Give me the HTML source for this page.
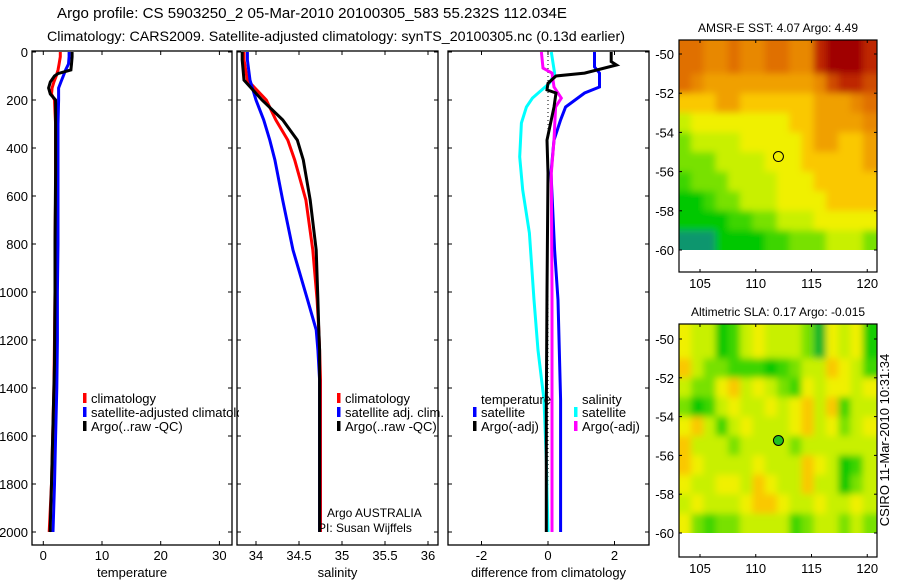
<!DOCTYPE html>
<html><head><meta charset="utf-8"><style>
html,body{margin:0;padding:0;background:#fff;}
svg{display:block;font-family:"Liberation Sans",Arial,sans-serif;}
</style></head><body>
<svg id="fig" width="900" height="580" viewBox="0 0 900 580" xmlns="http://www.w3.org/2000/svg">
<defs>
<filter id="blur" x="-5%" y="-5%" width="110%" height="110%"><feGaussianBlur stdDeviation="3.5"/></filter>
<clipPath id="leg1clip"><rect x="30" y="380" width="209" height="60"/></clipPath>
</defs>
<text x="57" y="18" font-size="14.5" textLength="510" lengthAdjust="spacingAndGlyphs">Argo profile: CS 5903250_2 05-Mar-2010 20100305_583 55.232S 112.034E</text>
<text x="47" y="41" font-size="14" textLength="578" lengthAdjust="spacingAndGlyphs">Climatology: CARS2009. Satellite-adjusted climatology: synTS_20100305.nc (0.13d earlier)</text>
<g id="layer"></g>
</svg>
<script>
// ---------- data ----------
const depthTicks=[0,200,400,600,800,1000,1200,1400,1600,1800,2000];
const tempTicks=[0,10,20,30];
const salTicks=[34,34.5,35,35.5,36];
const salTickLabels=["34","34.5","35","35.5","36"];
const diffTicks=[-2,0,2];
const tempClimDepth=[0,20,50,75,100,125,150,175,200,250,300,400,600,800,1000,1200,1400,1600,1800,2000];
const tempClimVal=[2.9,2.9,2.7,2.5,2.2,1.8,1.5,1.4,1.9,2.0,2.1,2.1,2.1,2.0,2.0,1.9,1.8,1.6,1.4,1.0];
const tempSatDepth=[0,20,50,75,100,125,150,200,300,400,600,800,1000,1200,1400,1600,1800,2000];
const tempSatVal=[4.4,4.4,4.3,3.8,3.4,3.0,2.6,2.6,2.5,2.5,2.5,2.5,2.4,2.4,2.3,2.1,1.9,1.65];
const tempArgoDepth=[0,20,50,75,90,100,125,150,175,200,250,350,500,800,1000,1300,1600,1800,2000];
const tempArgoVal=[4.9,4.9,4.8,4.7,2.5,1.9,1.2,0.9,1.2,2.1,2.1,2.1,2.1,2.0,2.0,1.9,1.6,1.4,1.15];
const salDepth=[0,33,117,200,283,367,450,617,825,1033,1158,1242,1367,1600,2000];
const salClimVal=[33.86,33.86,33.9,34.12,34.23,34.37,34.45,34.58,34.66,34.71,34.73,34.74,34.75,34.75,34.75];
const salSatVal=[33.9,33.9,33.93,34.0,34.09,34.16,34.22,34.31,34.43,34.6,34.7,34.72,34.74,34.74,34.74];
const salArgoVal=[33.84,33.84,33.86,34.07,34.31,34.48,34.55,34.63,34.7,34.72,34.73,34.74,34.74,34.74,34.74];
const dTempSatDepth=[0,62,88,146,171,229,283,367,504,825,1033,1450,2000];
const dTempSatVal=[1.4,1.4,1.55,1.55,1.1,0.53,0.38,0.18,0.09,0.2,0.3,0.38,0.38];
const dTempArgoDepth=[0,40,54,88,100,130,158,171,229,367,504,1000,1500,2000];
const dTempArgoVal=[1.9,1.9,2.06,1.1,0.24,0.0,-0.03,0.24,0.18,-0.03,0.0,-0.03,-0.05,-0.05];
const dSalSatDepth=[0,88,129,192,229,296,437,575,754,1033,1242,1450,1700,2000];
const dSalSatVal=[0.1,0.2,0.05,-0.47,-0.65,-0.8,-0.85,-0.76,-0.56,-0.42,-0.3,-0.12,-0.05,0.0];
const dSalArgoDepth=[0,67,88,146,192,229,367,504,1000,1500,2000];
const dSalArgoVal=[-0.2,-0.15,0.12,0.18,0.4,0.23,0.18,0.1,0.12,0.12,0.12];
const sstLatTicks=[-50,-52,-54,-56,-58,-60];
const lonTicks=[105,110,115,120];
const gridLon0=103.1, gridDLon=1.1, gridLat0=-50, gridDLat=-1;
const sstGrid=[
[6,6,5.5,5.5,6,5.5,5.5,6,6,5.5,5.5,7,7.5,7.5,7.5,7],
[6,5.5,5,5,5,5,5,5,5,5,5,5.5,6.5,7,7,6.5],
[4.5,4.5,4.5,5,5,4.5,4.5,4.5,4.5,4.5,4.5,5,5,5,5.5,6],
[3.5,4,4,4,4,4,4,4,4,4.5,4.5,5,5,5,5,5.5],
[3,3.5,3.5,3.5,3.5,4,4,4,4,4,4.5,5,5,4.5,4.5,5],
[3,3,3,3.5,3.5,3.5,3.5,4,4,4,4.5,4.5,4.5,4.5,4.5,5],
[2.5,3,3,3,3.5,3.5,3.5,3.5,4,4,4,4.5,4.5,4.5,4.5,4.5],
[2,2,2.5,3,3,3.5,3.5,3.5,4,4,4,4,4.5,4.5,4.5,4.5],
[2,2,2,2,2.5,2.5,3,3,3.5,3.5,3.5,4,4,4,4,4],
[1.5,1.5,1.5,2,2,2,2,2.5,2.5,3,3,3,3.5,3.5,3.5,3]];
const slaGrid=[
[4,3.5,3.5,2,2.5,3.5,4,3.5,3.5,3.5,3,1.8,4,3.5,4,2.2],
[4.5,3.5,3,3,2.5,2.5,2.5,2,2.5,3,3.5,3.5,4.5,4,3.5,2.5],
[3.5,3,3,4,4.5,3.5,4,3.5,3,2.5,4,3.5,4,4,3.5,4],
[3,2,2.5,3.5,4,3.5,3.5,4,3.5,4,4.5,3.5,4.5,2.5,3.5,3.5],
[4,4.5,3.5,2.5,3.5,4,3.5,3.5,3.5,4,4.5,3.5,4,3,3.5,4],
[4.5,3.5,3.5,3.5,3,3.5,3.5,3.5,3.5,3,3.5,3.5,3.5,3.5,3.5,3.5],
[4.5,4,3.5,3.5,3.5,3.5,4,3.5,3.5,3.5,4.5,4,3.5,2,2.5,3.5],
[4,3.5,3.5,4,4,3.5,4.5,4,3.5,3.5,4.5,3.5,3.5,2,3,3.5],
[3.5,4,3.5,3.5,3.5,4,4.5,4.5,4,3.5,3.5,4,3.5,3.5,4,3.5],
[4,3,2.5,3,3,3.5,3.5,3.5,3.5,2.5,3,3.5,3.5,3,3.5,3]];
const argoLon=112.034, argoLat=-55.232;

// ---------- helpers ----------
const NS="http://www.w3.org/2000/svg";
const layer=document.getElementById('layer');
function el(tag,attrs,parent){const e=document.createElementNS(NS,tag);for(const k in attrs)e.setAttribute(k,attrs[k]);(parent||layer).appendChild(e);return e;}
function txt(x,y,s,size,anchor,parent){const t=el('text',{x:x,y:y,'font-size':size,'text-anchor':anchor||'start'},parent);t.textContent=s;return t;}
const yDepth=d=>52+0.24*d;
const PT=51,PB=545;

function panel(name,x0,x1,xs,ticks,labels,title,showY){
  const g=el('g',{});
  
  
  const r=el('rect',{x:x0,y:PT,width:x1-x0,height:PB-PT,fill:'none',stroke:'#000','stroke-width':1.3},g);
  
  
  depthTicks.forEach(d=>{const y=yDepth(d);
    el('line',{x1:x0,x2:x0+4,y1:y,y2:y,stroke:'#000'},g);
    el('line',{x1:x1-4,x2:x1,y1:y,y2:y,stroke:'#000'},g);
    if(showY){const t=txt(x0-4,y+5,String(d),13,'end',g);
      
      }
  });
  ticks.forEach((v,i)=>{const x=xs(v);
    el('line',{x1:x,x2:x,y1:PB,y2:PB-4,stroke:'#000'},g);
    el('line',{x1:x,x2:x,y1:PT,y2:PT+4,stroke:'#000'},g);
    const t=txt(x,560,labels[i],13,'middle',g);
    
    
  });
  const tt=txt((x0+x1)/2,577,title,13,'middle',g);
  
  
  return g;
}
function line(g,depths,vals,xs,color,name,w){
  const pts=depths.map((d,i)=>xs(vals[i]).toFixed(1)+','+yDepth(d).toFixed(1)).join(' ');
  const p=el('polyline',{points:pts,fill:'none',stroke:color,'stroke-width':w||3},g);
  
  
}
function legend(g,x,y,color,label,name){
  el('rect',{x:x,y:y-10,width:3.5,height:10,fill:color},g);
  const t=txt(x+8,y,label,13,'start',g);
  
  
}

// temperature panel
const xT=v=>43.3+5.87*v;
const g1=panel('temperature-panel',32,232,xT,tempTicks,tempTicks.map(String),'temperature',true);
line(g1,tempClimDepth,tempClimVal,xT,'#ff0000','temp-climatology-line');
line(g1,tempSatDepth,tempSatVal,xT,'#0000ff','temp-satellite-line');
line(g1,tempArgoDepth,tempArgoVal,xT,'#000000','temp-argo-line');
const lg1=el('g',{'clip-path':'url(#leg1clip)'},g1);
legend(lg1,83,403,'#ff0000','climatology','legend-climatology');
legend(lg1,83,417,'#0000ff','satellite-adjusted climatology','legend-satellite-adjusted');
legend(lg1,83,431,'#000000','Argo(..raw -QC)','legend-argo');

// salinity panel
const xS=v=>256+86*(v-34);
const g2=panel('salinity-panel',237,438,xS,salTicks,salTickLabels,'salinity',false);
line(g2,salDepth,salClimVal,xS,'#ff0000','sal-climatology-line');
line(g2,salDepth,salSatVal,xS,'#0000ff','sal-satellite-line');
line(g2,salDepth,salArgoVal,xS,'#000000','sal-argo-line');
legend(g2,337,403,'#ff0000','climatology','legend-sal-climatology');
legend(g2,337,417,'#0000ff','satellite adj. clim.','legend-sal-satellite');
legend(g2,337,431,'#000000','Argo(..raw -QC)','legend-sal-argo');
const a1=txt(327,517,'Argo AUSTRALIA',12,'start',g2);

const a2=txt(318,532,'PI: Susan Wijffels',12,'start',g2);


// difference panel
const xD=v=>548+33.25*v;
const g3=panel('difference-panel',448,649,xD,diffTicks,diffTicks.map(String),'difference from climatology',false);
const zl=el('line',{x1:xD(0),x2:xD(0),y1:yDepth(0),y2:yDepth(2000),stroke:'#000','stroke-dasharray':'1,3'},g3);

line(g3,dSalSatDepth,dSalSatVal,xD,'#00ffff','diff-sal-satellite-line');
line(g3,dTempSatDepth,dTempSatVal,xD,'#0000ff','diff-temp-satellite-line');
line(g3,dSalArgoDepth,dSalArgoVal,xD,'#ff00ff','diff-sal-argo-line');
line(g3,dTempArgoDepth,dTempArgoVal,xD,'#000000','diff-temp-argo-line');
const h1=txt(481,404,'temperature',13,'start',g3);
const h2=txt(582,404,'salinity',13,'start',g3);
legend(g3,473,417,'#0000ff','satellite','legend-temp-satellite');
legend(g3,473,431,'#000000','Argo(-adj)','legend-temp-argo');
legend(g3,574,417,'#00ffff','satellite','legend-sal-satellite-diff');
legend(g3,574,431,'#ff00ff','Argo(-adj)','legend-sal-argo-diff');

// maps
function color(v){
  const stops=[[1.5,[16,150,110]],[2,[0,200,0]],[3,[120,225,0]],[3.5,[200,240,0]],[4,[240,240,0]],[4.5,[250,200,0]],[5,[240,160,0]],[6,[224,112,0]],[7,[190,40,0]],[7.5,[160,0,0]]];
  if(v<=stops[0][0])return 'rgb('+stops[0][1]+')';
  for(let i=1;i<stops.length;i++){if(v<=stops[i][0]){const a=stops[i-1],b=stops[i],t=(v-a[0])/(b[0]-a[0]);
    return 'rgb('+a[1].map((c,k)=>Math.round(c+(b[1][k]-c)*t)).join(',')+')';}}
  return 'rgb('+stops[stops.length-1][1]+')';
}
function map(name,top,bottom,lat50y,lat60y,grid,title,filled){
  const g=el('g',{});
  
  
  const x0=679,x1=877;
  const xL=lon=>700+11.15*(lon-105);
  const yL=lat=>lat50y+(lat60y-lat50y)*(lat+50)/(-10);
  const cid=name+'-clip';
  const dataBottom=yL(-60);
  const cp=el('clipPath',{id:cid},g);el('rect',{x:x0,y:top,width:x1-x0,height:dataBottom-top},cp);
  const cg=el('g',{'clip-path':'url(#'+cid+')'},g);
  const hg=el('g',{filter:'url(#blur)'},cg);
  grid.forEach((row,r)=>row.forEach((v,c)=>{
    const lonA=gridLon0+c*gridDLon, latA=gridLat0+r*gridDLat;
    const xa=c===0?x0-8:xL(lonA), xb=(c===row.length-1?x1+8:xL(lonA+gridDLon))+0.5;
    const ya=r===0?top-8:yL(latA), yb=(r===grid.length-1?dataBottom+8:yL(latA+gridDLat))+0.5;
    const cell=el('rect',{x:xa.toFixed(1),y:ya.toFixed(1),width:(xb-xa).toFixed(1),height:(yb-ya).toFixed(1),fill:color(v)},hg);
    
    
  }));
  el('rect',{x:x0,y:top,width:x1-x0,height:bottom-top,fill:'none',stroke:'#000','stroke-width':1.2},g);
  sstLatTicks.forEach(l=>{const y=yL(l);
    el('line',{x1:x0,x2:x0+3,y1:y,y2:y,stroke:'#000'},g);
    el('line',{x1:x1-3,x2:x1,y1:y,y2:y,stroke:'#000'},g);
    const t=txt(x0-5,y+5,String(l),13,'end',g);
    });
  lonTicks.forEach(l=>{const x=xL(l);
    el('line',{x1:x,x2:x,y1:bottom,y2:bottom-3,stroke:'#000'},g);
    el('line',{x1:x,x2:x,y1:top,y2:top+3,stroke:'#000'},g);
    const t=txt(x,bottom+16,String(l),13,'middle',g);
    });
  const tt=txt((x0+x1)/2,top-8,title,12,'middle',g);
  
  const m=el('circle',{cx:xL(argoLon),cy:yL(argoLat),r:5,fill:filled?'#20c020':'none',stroke:'#000','stroke-width':1},g);
  
}
map('sst-map',40,272,54,250,sstGrid,'AMSR-E SST: 4.07 Argo: 4.49',false);
map('sla-map',324,557,339,533,slaGrid,'Altimetric SLA: 0.17 Argo: -0.015',true);
const cs=txt(0,0,'CSIRO 11-Mar-2010 10:31:34',13,'middle',layer);
cs.setAttribute('transform','translate(889,440) rotate(-90)');


</script>
</body></html>
